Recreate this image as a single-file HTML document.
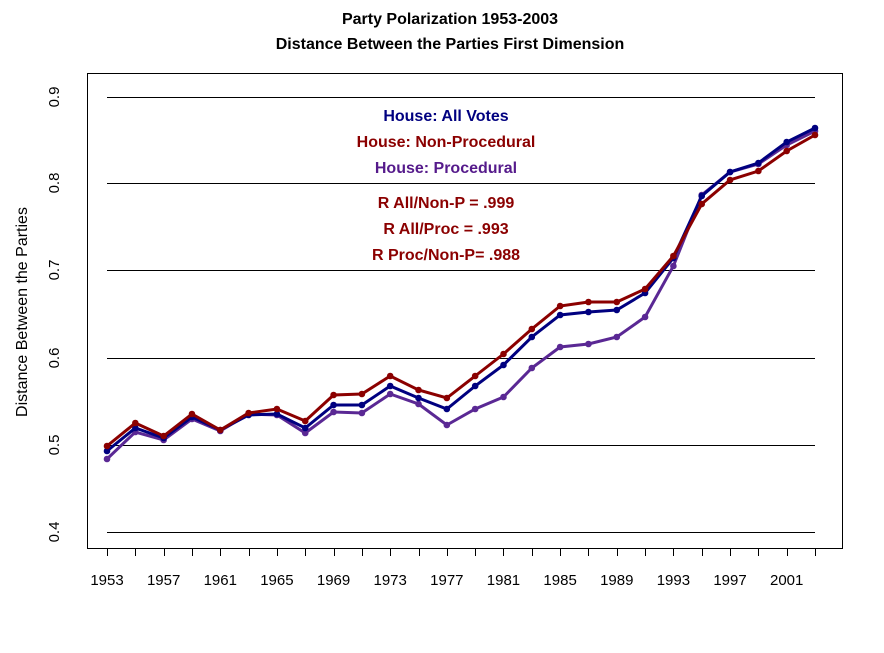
<!DOCTYPE html>
<html><head><style>body{margin:0;background:#fff}</style></head><body>
<svg width="884" height="648" xmlns="http://www.w3.org/2000/svg" font-family="Liberation Sans, Arial, sans-serif">
<rect width="884" height="648" fill="#fff"/>
<text x="450" y="24" text-anchor="middle" font-size="16" font-weight="bold">Party Polarization 1953-2003</text>
<text x="450" y="49" text-anchor="middle" font-size="16" font-weight="bold">Distance Between the Parties First Dimension</text>
<rect x="87.5" y="73.5" width="755" height="475" fill="none" stroke="#000"/>
<g stroke="#000" stroke-width="1">
<line x1="107" x2="815" y1="97.5" y2="97.5"/><line x1="107" x2="815" y1="183.5" y2="183.5"/>
<line x1="107" x2="815" y1="270.5" y2="270.5"/><line x1="107" x2="815" y1="358.5" y2="358.5"/>
<line x1="107" x2="815" y1="445.5" y2="445.5"/><line x1="107" x2="815" y1="532.5" y2="532.5"/>
</g>
<g font-size="15" text-anchor="middle">
<text transform="translate(59,97) rotate(-90)">0.9</text>
<text transform="translate(59,183) rotate(-90)">0.8</text>
<text transform="translate(59,270) rotate(-90)">0.7</text>
<text transform="translate(59,358) rotate(-90)">0.6</text>
<text transform="translate(59,445) rotate(-90)">0.5</text>
<text transform="translate(59,532) rotate(-90)">0.4</text>
<text transform="translate(27,312) rotate(-90)" font-size="16">Distance Between the Parties</text>
</g>
<g id="ticks" stroke="#000"></g>
<g id="xl" font-size="15" text-anchor="middle"></g>
<g id="series"></g>
<g font-size="16" font-weight="bold" text-anchor="middle">
<text x="446" y="121" fill="#000080">House: All Votes</text>
<text x="446" y="147" fill="#8b0000">House: Non-Procedural</text>
<text x="446" y="173" fill="#551a8b">House: Procedural</text>
<text x="446" y="208" fill="#8b0000">R All/Non-P = .999</text>
<text x="446" y="234" fill="#8b0000">R All/Proc  = .993</text>
<text x="446" y="260" fill="#8b0000">R Proc/Non-P= .988</text>
</g>
</svg>
<script>
const ns="http://www.w3.org/2000/svg";
const X=i=>107+28.32*i;
const t=document.getElementById('ticks'),xl=document.getElementById('xl'),s=document.getElementById('series');
for(let i=0;i<26;i++){const l=document.createElementNS(ns,'line');const xx=Math.round(X(i))+0.5;l.setAttribute('x1',xx);l.setAttribute('x2',xx);l.setAttribute('y1',549);l.setAttribute('y2',556);t.appendChild(l);
if(i%2==0&&i<25){const tx=document.createElementNS(ns,'text');tx.setAttribute('x',X(i));tx.setAttribute('y',585);tx.textContent=1953+2*i;xl.appendChild(tx);}}
const data=[
["#5a2894",[459,432,440,419,431,414,415,433,412,413,394,404,425,409,397,368,347,344,337,317,266,195,172,164,145,131]],
["#000080",[451,428,438,417,430,415,414,428,405,405,386,398,409,386,365,337,315,312,310,293,258,196,172,163,142,128]],
["#8b0000",[446,423,436,414,430,413,409,421,395,394,376,390,398,376,354,329,306,302,302,289,256,204,180,171,151,135]]];
for(const [c,ys] of data){const p=document.createElementNS(ns,'polyline');p.setAttribute('points',ys.map((y,i)=>X(i)+','+y).join(' '));p.setAttribute('fill','none');p.setAttribute('stroke',c);p.setAttribute('stroke-width',3);s.appendChild(p);
ys.forEach((y,i)=>{const ci=document.createElementNS(ns,'circle');ci.setAttribute('cx',X(i));ci.setAttribute('cy',y);ci.setAttribute('r',3.3);ci.setAttribute('fill',c);s.appendChild(ci);});}
</script>
</body></html>
